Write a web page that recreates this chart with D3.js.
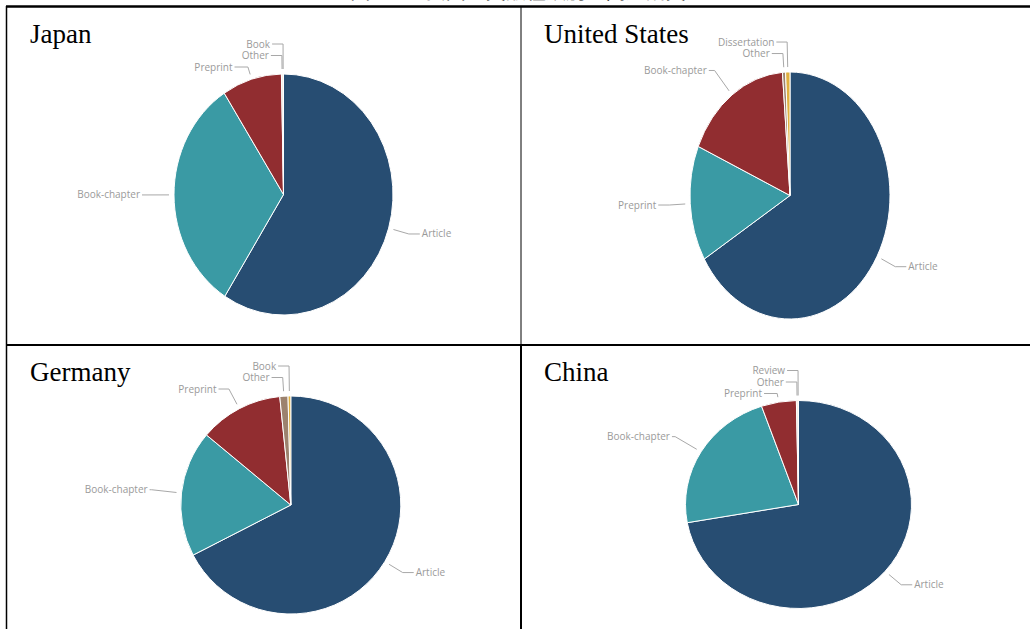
<!DOCTYPE html>
<html>
<head>
<meta charset="utf-8">
<script src="https://cdn.jsdelivr.net/npm/d3@7"></script>
<style>
  html, body { margin: 0; padding: 0; background: #fff; overflow: hidden; }
  svg { display: block; }
  .fig-title { font-family: "Noto Sans CJK JP", sans-serif; font-size: 20px; fill: #000; }
  .panel-title { font-family: "Liberation Serif", "Times New Roman", serif; font-size: 27px; fill: #000; }
  .slice-label { font-family: "Open Sans", sans-serif; font-size: 10px; fill: #9a9a9a; }
  .connector { fill: none; stroke: #a8a8a8; stroke-width: 1; }
  .rule { stroke: #000; }
</style>
</head>
<body>
<svg id="chart" width="1030" height="629"></svg>
<script>
// Shares (%) of publication types per country, read clockwise from 12 o'clock.
const countries = ['Japan', 'United States', 'Germany', 'China'];

const japanTypes  = ['Article', 'Book-chapter', 'Preprint', 'Other', 'Book'];
const japanShares = [59.0, 31.9, 8.8, 0.2, 0.1];

const usTypes  = ['Article', 'Preprint', 'Book-chapter', 'Other', 'Dissertation'];
const usShares = [66.4, 15.1, 17.3, 0.5, 0.7];

const germanyTypes  = ['Article', 'Book-chapter', 'Preprint', 'Other', 'Book'];
const germanyShares = [67.4, 18.7, 12.3, 1.2, 0.4];

const chinaTypes  = ['Article', 'Book-chapter', 'Preprint', 'Other', 'Review'];
const chinaShares = [72.2, 22.5, 5.0, 0.2, 0.1];

const figTitle = '図 3　主要国の文献種類別の関連論文';

// slices are coloured by rank, not by type
const palette = ['#274d72', '#3a9aa4', '#912d30', '#9c826e', '#e0b040'];

// panel frames and (stretched) pie geometry
const layout = [
  { x0: 7,   y0: 7,   cx: 283.5, cy: 194.5, rx: 109.5, ry: 120.5 },
  { x0: 521, y0: 7,   cx: 790,   cy: 195.5, rx: 100,   ry: 123.5 },
  { x0: 7,   y0: 345, cx: 290.8, cy: 505,   rx: 110,   ry: 109 },
  { x0: 521, y0: 345, cx: 798.5, cy: 504.5, rx: 113,   ry: 104 }
];

const series = [
  [japanTypes, japanShares],
  [usTypes, usShares],
  [germanyTypes, germanyShares],
  [chinaTypes, chinaShares]
];

const LABEL_DIST = 30;   // label distance outside the pie
const LOWER_PULL = 9;    // labels in the lower half sit a bit closer vertically
const LINE_GAP = 11.5;   // min vertical spacing between labels

const svg = d3.select('#chart');

// clipped figure caption above the table
svg.append('text')
  .attr('class', 'fig-title')
  .attr('x', 518).attr('y', -1)
  .attr('text-anchor', 'middle')
  .text(figTitle);

// table rules
const rules = svg.append('g').attr('class', 'rules');
rules.append('line').attr('class', 'rule').attr('x1', 6).attr('x2', 1030).attr('y1', 6.5).attr('y2', 6.5).attr('stroke-width', 2.5);
rules.append('line').attr('class', 'rule').attr('x1', 6.5).attr('x2', 6.5).attr('y1', 6).attr('y2', 629).attr('stroke-width', 1.5);
rules.append('line').attr('class', 'rule').attr('x1', 521).attr('x2', 521).attr('y1', 6).attr('y2', 345).attr('stroke-width', 1).attr('stroke', '#555');
rules.append('line').attr('class', 'rule').attr('x1', 521).attr('x2', 521).attr('y1', 345).attr('y2', 629).attr('stroke-width', 2);
rules.append('line').attr('class', 'rule').attr('x1', 6).attr('x2', 1030).attr('y1', 345).attr('y2', 345).attr('stroke-width', 2);

const pie = d3.pie().sort(null).value(d => d.share);

function drawPanel(name, types, shares, p) {
  const g = svg.append('g').attr('class', 'panel');
  const data = types.map((t, i) => ({ type: t, share: shares[i] }));
  const arcs = pie(data);

  g.append('text')
    .attr('class', 'panel-title')
    .attr('x', p.x0 + 23).attr('y', p.y0 + 36)
    .text(name);

  // draw the pie as a circle of radius ry, then stretch horizontally
  const arc = d3.arc().innerRadius(0).outerRadius(p.ry);
  g.append('g')
    .attr('transform', `translate(${p.cx},${p.cy}) scale(${p.rx / p.ry},1)`)
    .selectAll('path')
    .data(arcs)
    .join('path')
      .attr('d', arc)
      .attr('fill', (d, i) => palette[i % palette.length])
      .attr('stroke', '#fff')
      .attr('stroke-width', 1)
      .attr('stroke-linejoin', 'round')
      .attr('vector-effect', 'non-scaling-stroke');

  // point on the (stretched) pie at angle a, k px outside the rim
  const pt = (a, k) => [p.cx + (p.rx + k) * Math.sin(a), p.cy - (p.ry + k) * Math.cos(a)];

  const labels = arcs.map(d => {
    const a = (d.startAngle + d.endAngle) / 2;
    const c = Math.cos(a);
    const nx = p.cx + (p.rx + LABEL_DIST) * Math.sin(a);
    const ny = p.cy - (p.ry + LABEL_DIST - (c < 0 ? LOWER_PULL : 0)) * c;
    return { a, name: d.data.type, left: Math.sin(a) < 0, nx, ny, y: ny };
  });

  // push overlapping labels down, per side
  [true, false].forEach(side => {
    const list = labels.filter(l => l.left === side).sort((a, b) => a.ny - b.ny);
    list.forEach((l, i) => { if (i > 0) l.y = Math.max(l.y, list[i - 1].y + LINE_GAP); });
  });

  const lg = g.append('g').attr('class', 'labels');
  labels.forEach(l => {
    const s = l.left ? -1 : 1;
    const gap = 4 + 9 * (1 - Math.abs(Math.sin(l.a)));
    const tx = l.nx + s * gap;

    lg.append('text')
      .attr('class', 'slice-label')
      .attr('x', tx).attr('y', l.y)
      .attr('dy', '0.35em')
      .attr('text-anchor', l.left ? 'end' : 'start')
      .text(l.name);

    // connector: from label, bend, then radially into the slice
    const touch = pt(l.a, 5);
    const ux = Math.sin(l.a), uy = -Math.cos(l.a);
    let t = Math.abs(uy) > 0.05 ? (l.y - touch[1]) / uy : 0;
    t = Math.max(0, Math.min(40, t));
    let ex = touch[0] + t * ux;
    const ey = touch[1] + t * uy;
    const sx = tx - s * 2;
    if (s * (ex - sx) > 0) ex = sx;
    lg.append('path')
      .attr('class', 'connector')
      .attr('d', d3.line()([[sx, l.y], [ex, ey], touch]));
  });
}

countries.forEach((c, i) => drawPanel(c, series[i][0], series[i][1], layout[i]));
</script>
</body>
</html>
